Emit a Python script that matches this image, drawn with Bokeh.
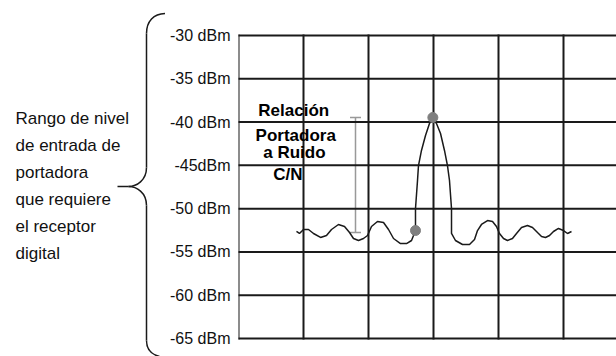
from bokeh.plotting import figure
from bokeh.layouts import row
from bokeh.models import Range1d, FixedTicker, Whisker, TeeHead, ColumnDataSource
from bokeh.core.properties import value
from bokeh.embed import file_html
from bokeh.resources import INLINE

# ---------------- data ----------------
y_ticks = [-65, -60, -55, -50, -45, -40, -35, -30]
y_tick_labels = ["-65 dBm", "-60 dBm", "-55 dBm", "-50 dBm", "-45dBm",
                 "-40 dBm", "-35 dBm", "-30 dBm"]
x_divisions = [0, 1, 2, 3, 4, 5]

# spectrum trace (grid divisions, dBm)
freq = [0.892, 0.938, 1.0, 1.077, 1.154, 1.262, 1.354, 1.431, 1.538, 1.631,
        1.708, 1.769, 1.846, 1.923, 1.985, 2.046, 2.138, 2.231, 2.308, 2.385,
        2.492, 2.585, 2.662, 2.723, 2.723, 2.754, 2.769, 2.815, 2.877, 2.938,
        2.99, 3.046, 3.108, 3.169, 3.215, 3.246, 3.277, 3.277, 3.338, 3.446,
        3.554, 3.631, 3.677, 3.738, 3.831, 3.908, 3.969, 4.015, 4.077, 4.138,
        4.215, 4.277, 4.354, 4.446, 4.523, 4.6, 4.662, 4.723, 4.785, 4.846,
        4.923, 5.0, 5.062, 5.123]
level = [-52.64, -52.87, -52.41, -52.41, -52.87, -53.33, -53.10, -52.41, -51.83, -52.06,
         -52.76, -53.45, -53.68, -53.45, -53.10, -52.06, -51.49, -51.60, -52.41, -53.45,
         -54.03, -54.03, -53.68, -52.53, -49.98, -46.75, -45.02, -43.28, -41.55, -40.17,
         -39.47, -40.17, -41.32, -43.28, -45.02, -46.75, -49.98, -52.87, -53.68, -54.14,
         -54.14, -53.57, -52.53, -51.83, -51.37, -51.49, -52.06, -52.87, -53.45, -53.68,
         -53.45, -52.87, -52.18, -51.95, -52.18, -52.76, -53.22, -53.33, -53.10, -52.64,
         -52.29, -52.53, -52.87, -52.64]

marker_x = [2.723, 2.99]
marker_y = [-52.53, -39.47]

cn_x = [1.8]
cn_top = [-39.47]
cn_bottom = [-52.76]

annotation_lines = ["Relación", "Portadora", "a Ruido", "C/N"]
side_lines = ["Rango de nivel", "de entrada de", "portadora",
              "que requiere", "el receptor", "digital"]

INK = "#1a1a1a"
FONT = "Liberation Sans"
LEFT_W = 165
H = 356
GRID_TOP, GRID_BOTTOM = 35, 338          # pixel rows of the -30 / -65 lines
PX_PER_DB = (GRID_BOTTOM - GRID_TOP) / 35.0
PX_PER_DIV = 65.0
FRAME_W = 616 - 238

# ---------------- left panel: text + brace ----------------
left = figure(width=LEFT_W, height=H, x_range=Range1d(0, LEFT_W), y_range=Range1d(H, 0),
              output_backend="svg", toolbar_location=None,
              x_axis_location=None, y_axis_location=None,
              min_border=0, outline_line_color=None)
for g in left.grid:
    g.visible = False

left.text(x=[15] * len(side_lines), y=[118, 145, 172, 199, 226, 253], text=side_lines,
          text_font=value(FONT), text_font_size="17px", text_color="#111111",
          text_align="left", text_baseline="middle")

# curly brace
left.segment(x0=[168, 146, 128, 146], y0=[13, 33, 186, 205],
             x1=[165, 146, 117, 146], y1=[13, 167, 186, 340],
             line_color=INK, line_width=1.5)
left.bezier(x0=[165, 146, 128, 146], y0=[13, 167, 186, 340],
            x1=[146, 128, 146, 159], y1=[33, 186, 205, 356],
            cx0=[153, 146, 136, 146], cy0=[13, 180, 186, 349],
            cx1=[146, 136, 146, 151], cy1=[21, 186, 192, 354],
            line_color=INK, line_width=1.5)

# ---------------- right panel: spectrum plot ----------------
x_end = FRAME_W / PX_PER_DIV
y_lo = -65 - (H - GRID_BOTTOM) / PX_PER_DB
y_hi = -30 + GRID_TOP / PX_PER_DB
p = figure(width=616 - LEFT_W, height=H, x_range=Range1d(0, x_end), y_range=Range1d(y_lo, y_hi),
           output_backend="svg", toolbar_location=None, x_axis_location=None,
           min_border_left=238 - LEFT_W, min_border_right=0, min_border_top=0,
           min_border_bottom=0, outline_line_color=None)
for g in p.grid:
    g.visible = False

# grid / frame lines
p.segment(x0=x_divisions, y0=[min(y_ticks)] * len(x_divisions),
          x1=x_divisions, y1=[max(y_ticks)] * len(x_divisions),
          line_color=INK, line_width=2, line_cap="square")
p.segment(x0=[0] * len(y_ticks), y0=y_ticks, x1=[x_end + 1] * len(y_ticks), y1=y_ticks,
          line_color=INK, line_width=2, line_cap="square")

ax = p.yaxis[0]
ax.ticker = FixedTicker(ticks=y_ticks)
ax.major_label_overrides = dict(zip(y_ticks, y_tick_labels))
ax.axis_line_color = None
ax.major_tick_line_color = None
ax.minor_tick_line_color = None
ax.major_tick_out = 0
ax.major_tick_in = 0
ax.minor_tick_out = 0
ax.major_label_standoff = 8
ax.major_label_text_font = FONT
ax.major_label_text_font_size = "16px"
ax.major_label_text_color = "#111111"

p.line(freq, level, line_color=INK, line_width=1.5)
p.scatter(marker_x, marker_y, size=10, fill_color="#7f7f7f", line_color="#7f7f7f")

src = ColumnDataSource(dict(base=cn_x, lower=cn_bottom, upper=cn_top))
p.add_layout(Whisker(source=src, base="base", lower="lower", upper="upper",
                     dimension="height", line_color="#999999", line_width=1.5,
                     upper_head=TeeHead(size=11, line_color="#999999", line_width=1.5),
                     lower_head=TeeHead(size=11, line_color="#999999", line_width=1.5)))

p.text(x=[0.85, 0.88, 0.86, 0.76], y=[-38.66, -41.55, -43.5, -46.06], text=annotation_lines,
       text_font=value(FONT), text_font_style="bold", text_font_size="17px",
       text_color="#000000", text_align="center", text_baseline="middle")

layout = row(left, p, spacing=0)
open("out.html", "w").write(file_html(layout, INLINE))
